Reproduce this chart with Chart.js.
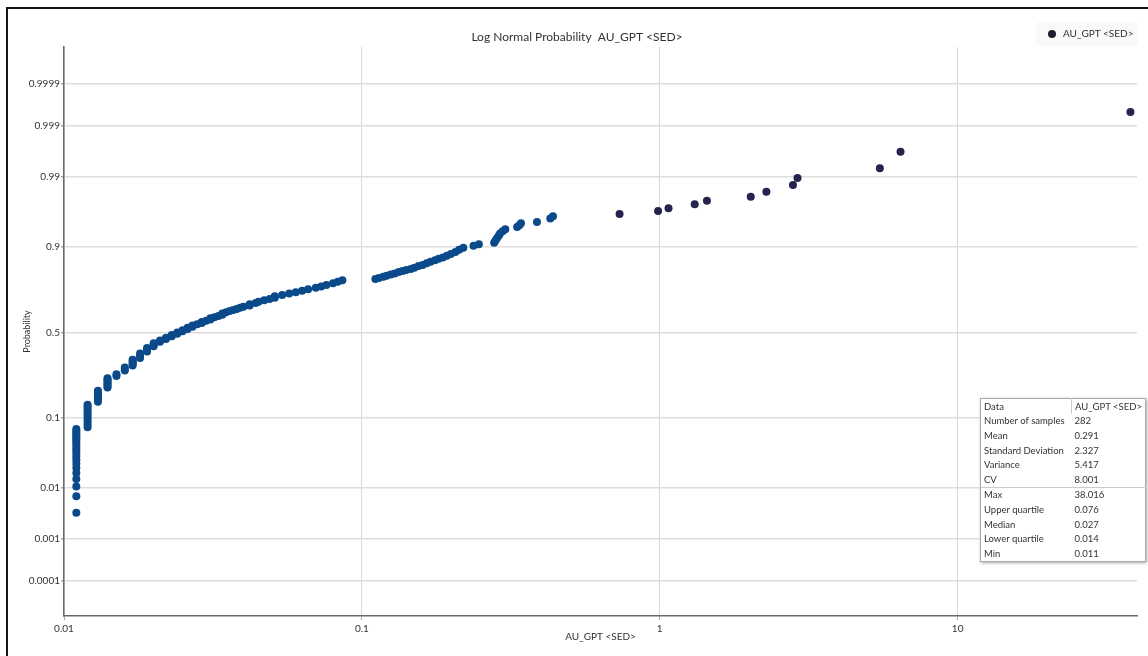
<!DOCTYPE html>
<html>
<head>
<meta charset="utf-8">
<script src="https://cdn.jsdelivr.net/npm/chart.js@4.4.1/dist/chart.umd.min.js"></script>
<style>
    body { margin: 0; background: #fff; font-family: Lato, "Noto Sans", sans-serif; }
    #wrap { position: relative; width: 1148px; height: 656px; overflow: hidden; }
    #frame { position: absolute; left: 6px; top: 7px; right: -10px; bottom: -10px;
        border-top: 2px solid #151515; border-left: 2px solid #151515; pointer-events: none; }
    #legend { position: absolute; left: 1036px; top: 22px; width: 102px; height: 24px;
        background: rgba(0, 0, 0, 0.025); border-radius: 3px; font-size: 10px; color: #333; }
    #legend .dot { position: absolute; left: 12px; top: 8px; width: 8px; height: 8px;
        border-radius: 50%; background: #1e1e2e; }
    #legend .txt { position: absolute; left: 27px; top: 5px; white-space: nowrap; }
    #stats { position: absolute; left: 980px; top: 398px; border-collapse: collapse;
        border: 1px solid #a8a8a8; box-shadow: 1px 1px 3px rgba(0,0,0,0.35);
        background: #fff; font-size: 9.5px; color: #333; }
    #stats td { height: 14.6px; padding: 0 3px; line-height: 13px; white-space: nowrap; }
    #stats td:first-child { width: 84px; }
    #stats td:last-child { width: 60px; }
    #stats tr.head td:first-child { border-right: 1px solid #ccc; }
    #stats tr.sep td { border-top: 1px solid #ccc; }
</style>
</head>
<body>
<div id="wrap">
    <canvas id="chart" width="1148" height="656"></canvas>
    <div id="frame"></div>
    <div id="legend"><span class="dot"></span><span class="txt">AU_GPT &lt;SED&gt;</span></div>
    <table id="stats"></table>
</div>
<script>
// оси
const xTickValues = [0.01, 0.1, 1, 10];
const xTickLabels = ['0.01', '0.1', '1', '10'];
const yTickProbs = [0.0001, 0.001, 0.01, 0.1, 0.5, 0.9, 0.99, 0.999, 0.9999];
const yTickLabels = ['0.0001', '0.001', '0.01', '0.1', '0.5', '0.9', '0.99', '0.999', '0.9999'];

// значения проб
const auValues = [
    0.011, 0.011, 0.011, 0.011, 0.011, 0.011, 0.011, 0.011, 0.011, 0.011, 0.011,
    0.011, 0.011, 0.011, 0.011, 0.011, 0.011, 0.011, 0.011, 0.011, 0.011,
    0.012, 0.012, 0.012, 0.012, 0.012, 0.012, 0.012, 0.012, 0.012, 0.012,
    0.013, 0.013, 0.013, 0.013, 0.013, 0.013, 0.013,
    0.014, 0.014, 0.014, 0.014, 0.014, 0.014, 0.014,
    0.015, 0.015, 0.016, 0.016, 0.016,
    0.017, 0.017, 0.017, 0.017, 0.017,
    0.018, 0.018, 0.018, 0.019, 0.019, 0.019, 0.020, 0.020, 0.020,
    0.021, 0.021, 0.022, 0.022, 0.023, 0.023, 0.024, 0.024, 0.025, 0.025,
    0.026, 0.026, 0.027, 0.027, 0.028, 0.029, 0.029, 0.030, 0.031, 0.031,
    0.032, 0.033, 0.034, 0.034, 0.035, 0.036, 0.037, 0.038, 0.039, 0.040,
    0.042, 0.042, 0.044, 0.045, 0.047, 0.049, 0.051, 0.051, 0.054, 0.057,
    0.060, 0.063, 0.066, 0.070, 0.073, 0.076, 0.080, 0.083, 0.086,
    0.111, 0.114, 0.118, 0.121, 0.125, 0.129, 0.133, 0.137, 0.141, 0.146,
    0.150, 0.155, 0.160, 0.165, 0.170, 0.176, 0.181, 0.187, 0.193, 0.199,
    0.206, 0.212, 0.219, 0.237, 0.247,
    0.278, 0.281, 0.284, 0.288, 0.291, 0.297, 0.303,
    0.332, 0.338, 0.342, 0.387, 0.429, 0.438, 0.733,
    0.987, 1.07, 1.31, 1.44, 2.02, 2.28, 2.80, 2.90, 5.48, 6.43, 38.016
];
const probabilities = [
    0.0035, 0.0071, 0.0106, 0.0141, 0.0177, 0.0212, 0.0247, 0.0283, 0.0318, 0.0353, 0.0389,
    0.0424, 0.0459, 0.0495, 0.053, 0.0565, 0.0601, 0.0636, 0.0671, 0.0707, 0.0742,
    0.078, 0.085, 0.092, 0.099, 0.106, 0.113, 0.120, 0.127, 0.134, 0.140,
    0.150, 0.157, 0.164, 0.171, 0.178, 0.185, 0.192,
    0.205, 0.212, 0.219, 0.226, 0.233, 0.240, 0.247,
    0.258, 0.266, 0.285, 0.292, 0.300,
    0.310, 0.318, 0.326, 0.334, 0.341,
    0.352, 0.364, 0.376, 0.388, 0.398, 0.408, 0.418, 0.427, 0.436,
    0.445, 0.453, 0.461, 0.469, 0.477, 0.485, 0.493, 0.500, 0.507, 0.514,
    0.521, 0.528, 0.535, 0.542, 0.549, 0.556, 0.563, 0.570, 0.577, 0.584,
    0.591, 0.598, 0.605, 0.612, 0.619, 0.626, 0.632, 0.638, 0.644, 0.650,
    0.657, 0.664, 0.671, 0.678, 0.685, 0.692, 0.699, 0.706, 0.713, 0.720,
    0.727, 0.734, 0.741, 0.748, 0.755, 0.762, 0.769, 0.776, 0.783,
    0.788, 0.793, 0.798, 0.802, 0.807, 0.811, 0.817, 0.821, 0.825, 0.829,
    0.834, 0.840, 0.844, 0.850, 0.855, 0.860, 0.865, 0.869, 0.875, 0.880,
    0.886, 0.892, 0.898, 0.903, 0.907,
    0.9105, 0.916, 0.921, 0.926, 0.931, 0.935, 0.939,
    0.943, 0.946, 0.949, 0.951, 0.956, 0.959, 0.962,
    0.9655, 0.9685, 0.9725, 0.9758, 0.979, 0.9825, 0.9864, 0.9896, 0.993, 0.9966, 0.99952
];

// таблица статистики
const statNames = ['Data', 'Number of samples', 'Mean', 'Standard Deviation', 'Variance', 'CV',
    'Max', 'Upper quartile', 'Median', 'Lower quartile', 'Min'];
const statValues = ['AU_GPT <SED>', '282', '0.291', '2.327', '5.417', '8.001',
    '38.016', '0.076', '0.027', '0.014', '0.011'];

// обратная функция нормального распределения (шкала вероятностей)
function probit(p) {
    const a = [-3.969683028665376e+01, 2.209460984245205e+02, -2.759285104469687e+02,
        1.383577518672690e+02, -3.066479806614716e+01, 2.506628277459239e+00];
    const b = [-5.447609879822406e+01, 1.615858368580409e+02, -1.556989798598866e+02,
        6.680131188771972e+01, -1.328068155288572e+01];
    const c = [-7.784894002430293e-03, -3.223964580411365e-01, -2.400758277161838e+00,
        -2.549732539343734e+00, 4.374664141464968e+00, 2.938163982698783e+00];
    const d = [7.784695709041462e-03, 3.224671290700398e-01, 2.445134137142996e+00,
        3.754408661907416e+00];
    const pl = 0.02425;
    let q, r;
    if (p < pl) {
        q = Math.sqrt(-2 * Math.log(p));
        return (((((c[0] * q + c[1]) * q + c[2]) * q + c[3]) * q + c[4]) * q + c[5]) /
            ((((d[0] * q + d[1]) * q + d[2]) * q + d[3]) * q + 1);
    }
    if (p > 1 - pl) {
        q = Math.sqrt(-2 * Math.log(1 - p));
        return -(((((c[0] * q + c[1]) * q + c[2]) * q + c[3]) * q + c[4]) * q + c[5]) /
            ((((d[0] * q + d[1]) * q + d[2]) * q + d[3]) * q + 1);
    }
    q = p - 0.5;
    r = q * q;
    return (((((a[0] * r + a[1]) * r + a[2]) * r + a[3]) * r + a[4]) * r + a[5]) * q /
        (((((b[0] * r + b[1]) * r + b[2]) * r + b[3]) * r + b[4]) * r + 1);
}

const table = document.getElementById('stats');
for (let i = 0; i < statNames.length; i++) {
    const tr = document.createElement('tr');
    if (i === 0) tr.className = 'head';
    if (i === 6) tr.className = 'sep';
    const td1 = document.createElement('td');
    td1.textContent = statNames[i];
    const td2 = document.createElement('td');
    td2.textContent = statValues[i];
    tr.appendChild(td1);
    tr.appendChild(td2);
    table.appendChild(tr);
}

const points = auValues.map((v, i) => ({x: v, y: probit(probabilities[i])}));
const tickFont = {family: 'Lato', size: 10};

new Chart(document.getElementById('chart'), {
    type: 'scatter',
    data: {
        datasets: [{
            label: 'AU_GPT <SED>',
            data: points,
            pointRadius: 4,
            pointHoverRadius: 4,
            pointBorderWidth: 0,
            pointBackgroundColor: ctx => (ctx.raw && ctx.raw.x >= 0.6) ? '#25244e' : '#0b4a8a'
        }]
    },
    options: {
        responsive: false,
        animation: false,
        layout: {padding: {top: 8, right: 11, bottom: 0, left: 17}},
        plugins: {
            legend: {display: false},
            tooltip: {enabled: false},
            title: {
                display: true,
                text: 'Log Normal Probability  AU_GPT <SED>',
                color: '#333',
                font: {family: 'Lato', size: 12, weight: 'normal'},
                padding: {top: 22, bottom: 2.6}
            }
        },
        scales: {
            x: {
                type: 'logarithmic',
                min: 0.01,
                max: 40,
                afterBuildTicks: scale => {
                    scale.ticks = xTickValues.map(v => ({value: v}));
                },
                afterFit: scale => {
                    scale.height = 40;
                },
                ticks: {
                    callback: (value, index) => xTickLabels[index],
                    autoSkip: false,
                    maxRotation: 0,
                    padding: 3,
                    color: '#333',
                    font: tickFont
                },
                grid: {color: '#d9d9d9', lineWidth: 1, tickLength: 4, tickColor: '#aaa'},
                border: {color: '#6a6a6a', width: 1.5},
                title: {
                    display: true,
                    text: 'AU_GPT <SED>',
                    color: '#333',
                    font: {family: 'Lato', size: 10},
                    padding: {top: 0, bottom: 13}
                }
            },
            y: {
                type: 'linear',
                min: -4.244,
                max: 4.274,
                afterBuildTicks: scale => {
                    scale.ticks = yTickProbs.map(p => ({value: probit(p)}));
                },
                afterFit: scale => {
                    scale.width = 47;
                },
                ticks: {
                    callback: (value, index) => yTickLabels[index],
                    padding: 1,
                    color: '#333',
                    font: tickFont
                },
                grid: {color: '#dedede', lineWidth: 1.5, tickLength: 3, tickColor: '#aaa'},
                border: {color: '#6a6a6a', width: 1.5},
                title: {
                    display: true,
                    text: 'Probability',
                    color: '#333',
                    font: {family: 'Lato', size: 9},
                    padding: {top: 5, bottom: 0}
                }
            }
        }
    }
});
</script>
</body>
</html>
